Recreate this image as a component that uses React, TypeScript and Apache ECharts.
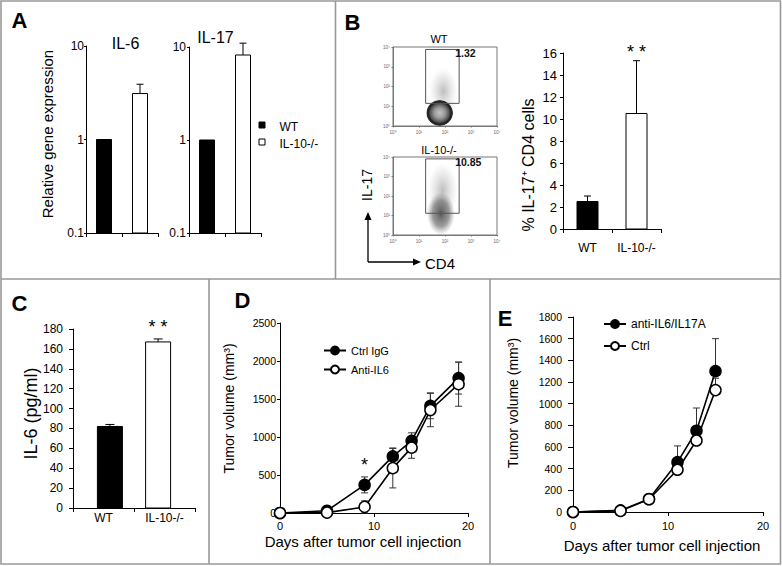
import React, { useEffect, useRef } from "react";
import * as echarts from "echarts";

const FONT = '"Liberation Sans", Arial, Helvetica, sans-serif';

// ---------- Panel A: relative gene expression (log scale) ----------
const groupsA = ["WT", "IL-10-/-"];
const il6Relative = [1, 3.1];
const il6RelativeErr = [0, 0.8];
const il17Relative = [1, 8.2];
const il17RelativeErr = [0, 2.8];
const relativeMin = 0.1;
const relativeMax = 10;

// ---------- Panel B: flow cytometry + % IL-17+ CD4 cells ----------
const groupsB = ["WT", "IL-10-/-"];
const il17Percent = [2.5, 10.5];
const il17PercentErr = [0.5, 4.8];
const il17PercentSig = ["", "* *"];
const flowMin = 1;
const flowMax = 10000;
const flowTickLabels = ["10⁰", "10¹", "10²", "10³", "10⁴"];
const flowTitles = ["WT", "IL-10-/-"];
const flowGatePercent = ["1.32", "10.85"];
// gate bounds: [CD4 low, CD4 high, IL-17 low, IL-17 high]
const flowGateWT = [18, 350, 14, 7500];
const flowGateKO = [18, 350, 13, 8000];
// event clouds: [CD4 low, CD4 high, IL-17 low, IL-17 high, density kind]
const flowCloudWT = [
  [25, 300, 4, 900, 0],
  [19, 205, 1, 21, 2],
];
const flowCloudKO = [
  [22, 300, 8, 5000, 0],
  [20, 240, 1, 160, 1],
];

// ---------- Panel C: IL-6 (pg/ml) ----------
const groupsC = ["WT", "IL-10-/-"];
const il6Conc = [82, 167];
const il6ConcErr = [2, 3];
const il6ConcSig = ["", "* *"];

// ---------- Panel D: tumor volume, Ctrl IgG vs Anti-IL6 ----------
const daysD = [0, 5, 9, 12, 14, 16, 19];
const ctrlIgG = [0, 30, 370, 745, 950, 1410, 1775];
const ctrlIgGErr = [0, 0, 105, 110, 105, 170, 210];
const antiIL6 = [0, 5, 80, 590, 860, 1355, 1695];
const antiIL6Err = [0, 0, 80, 260, 140, 220, 290];
const sigD = ["", "", "*", "", "", "", ""];

// ---------- Panel E: tumor volume, anti-IL6/IL17A vs Ctrl ----------
const daysE = [0, 5, 8, 11, 13, 15];
const antiCombo = [0, 15, 120, 460, 750, 1300];
const antiComboErr = [0, 0, 0, 150, 210, 300];
const ctrlE = [0, 10, 118, 390, 660, 1125];
const ctrlEErr = [0, 0, 0, 0, 0, 110];

const BLACK = "#000";
const plain = (v: number) => String(+(+v).toPrecision(4));

function barRenderer(o: {
  base: number;
  shift: number;
  barWidth: number;
  capWidth: number;
  fills: string[];
  errs: number[];
  sigs?: string[];
  sigGap?: number;
  sigSize?: number;
}) {
  return (params: any, api: any) => {
    const idx = params.dataIndex;
    const i = api.value(0);
    const v = api.value(1);
    const e = o.errs[idx] || 0;
    const band = api.size([1, 0], [i, 1])[0];
    const dir = idx === 0 ? 1 : -1;
    const top = api.coord([i, v]);
    const bottom = api.coord([i, o.base]);
    const cx = top[0] + dir * o.shift * band;
    const children: any[] = [];
    let capY = top[1];
    if (e > 0) {
      const et = api.coord([i, v + e]);
      capY = et[1];
      children.push({
        type: "line",
        shape: { x1: cx, y1: top[1], x2: cx, y2: et[1] },
        style: { stroke: BLACK, lineWidth: 1 },
      });
      children.push({
        type: "line",
        shape: { x1: cx - o.capWidth / 2, y1: et[1], x2: cx + o.capWidth / 2, y2: et[1] },
        style: { stroke: BLACK, lineWidth: 1 },
      });
    }
    children.push({
      type: "rect",
      shape: { x: cx - o.barWidth / 2, y: top[1], width: o.barWidth, height: bottom[1] - top[1] },
      style: { fill: o.fills[idx], stroke: BLACK, lineWidth: 1 },
    });
    if (o.sigs && o.sigs[idx]) {
      children.push({
        type: "text",
        style: {
          text: o.sigs[idx],
          x: cx,
          y: capY - (o.sigGap || 12),
          align: "center",
          verticalAlign: "middle",
          textAlign: "center",
          textVerticalAlign: "middle",
          fontSize: o.sigSize || 18,
          fontFamily: FONT,
          fill: BLACK,
        },
      });
    }
    return { type: "group", children };
  };
}

function errRenderer(errs: number[], mode: "both" | "up", sigs?: string[]) {
  return (params: any, api: any) => {
    const idx = params.dataIndex;
    const x = api.value(0);
    const m = api.value(1);
    const e = errs[idx] || 0;
    const children: any[] = [];
    const cw = 3.5;
    const st = { stroke: "#333", lineWidth: 1 };
    let capY = api.coord([x, m])[1];
    if (e > 0) {
      const top = api.coord([x, m + e]);
      const bot = api.coord([x, mode === "both" ? Math.max(m - e, 0) : m]);
      capY = top[1];
      children.push({ type: "line", shape: { x1: top[0], y1: top[1], x2: bot[0], y2: bot[1] }, style: st });
      children.push({ type: "line", shape: { x1: top[0] - cw, y1: top[1], x2: top[0] + cw, y2: top[1] }, style: st });
      if (mode === "both")
        children.push({ type: "line", shape: { x1: bot[0] - cw, y1: bot[1], x2: bot[0] + cw, y2: bot[1] }, style: st });
    }
    if (sigs && sigs[idx]) {
      const p = api.coord([x, m]);
      children.push({
        type: "text",
        style: {
          text: sigs[idx],
          x: p[0],
          y: capY - 12,
          align: "center",
          verticalAlign: "middle",
          textAlign: "center",
          textVerticalAlign: "middle",
          fontSize: 18,
          fontFamily: FONT,
          fill: BLACK,
        },
      });
    }
    return { type: "group", children };
  };
}

function gateRenderer(label: string) {
  return (params: any, api: any) => {
    const p1 = api.coord([api.value(0), api.value(3)]);
    const p2 = api.coord([api.value(1), api.value(2)]);
    return {
      type: "group",
      children: [
        {
          type: "rect",
          shape: { x: p1[0], y: p1[1], width: p2[0] - p1[0], height: p2[1] - p1[1] },
          style: { fill: "none", stroke: "#555", lineWidth: 1 },
        },
        {
          type: "text",
          style: {
            text: label,
            x: p2[0] - 4,
            y: p1[1] + 3.5,
            align: "left",
            verticalAlign: "middle",
            textAlign: "left",
            textVerticalAlign: "middle",
            fontSize: 10.5,
            fontWeight: "bold",
            fontFamily: FONT,
            fill: "#111",
          },
        },
      ],
    };
  };
}

function cloudRenderer(params: any, api: any) {
  const a = api.coord([api.value(0), api.value(3)]);
  const b = api.coord([api.value(1), api.value(2)]);
  const kind = api.value(4);
  const cx = (a[0] + b[0]) / 2;
  const cy = (a[1] + b[1]) / 2;
  const rx = Math.abs(b[0] - a[0]) / 2;
  const ry = Math.abs(b[1] - a[1]) / 2;
  let stops;
  if (kind === 2)
    stops = [
      { offset: 0, color: "#c4c4c4" },
      { offset: 0.4, color: "#9a9a9a" },
      { offset: 0.7, color: "#555" },
      { offset: 0.85, color: "#1e1e1e" },
      { offset: 0.95, color: "#333" },
      { offset: 1, color: "rgba(60,60,60,0.3)" },
    ];
  else if (kind === 1)
    stops = [
      { offset: 0, color: "rgba(60,60,60,0.85)" },
      { offset: 0.6, color: "rgba(90,90,90,0.6)" },
      { offset: 1, color: "rgba(130,130,130,0)" },
    ];
  else
    stops = [
      { offset: 0, color: "rgba(110,110,110,0.45)" },
      { offset: 1, color: "rgba(160,160,160,0)" },
    ];
  return {
    type: "ellipse",
    shape: { cx, cy, rx, ry },
    style: { fill: new echarts.graphic.RadialGradient(0.5, 0.5, 0.5, stops) },
  };
}

const axisLine = { show: true, lineStyle: { color: BLACK, width: 1 } };
const tick = (len: number) => ({ show: true, length: len, lineStyle: { color: BLACK } });

function catX(gridIndex: number, data: string[], showLabel: boolean, margin: number) {
  return {
    gridIndex,
    type: "category",
    data,
    axisLine,
    axisTick: tick(4),
    splitLine: { show: false },
    axisLabel: { show: showLabel, interval: 0, fontSize: 12, margin, color: BLACK, fontFamily: FONT },
  };
}

function valueAxis(gridIndex: number, max: number, interval: number, fontSize: number, margin: number, tickLen: number) {
  return {
    gridIndex,
    type: "value",
    min: 0,
    max,
    interval,
    axisLine,
    axisTick: tick(tickLen),
    splitLine: { show: false },
    axisLabel: { fontSize, margin, color: BLACK, formatter: plain },
  };
}

function flowAxis(gridIndex: number, isY: boolean) {
  const sup = flowTickLabels;
  return {
    gridIndex,
    type: "log",
    logBase: 10,
    min: flowMin,
    max: flowMax,
    axisLine: { show: true, lineStyle: { color: "#777", width: 1 } },
    axisTick: { show: true, length: 1.5, lineStyle: { color: "#777" } },
    splitLine: { show: false },
    minorTick: { show: false },
    axisLabel: {
      fontSize: 4.5,
      color: "#666",
      margin: isY ? 3 : 4,
      formatter: (v: number) => sup[Math.round(Math.log10(v))] || "",
    },
  };
}

function logAxis(gridIndex: number, margin: number) {
  return {
    gridIndex,
    type: "log",
    logBase: 10,
    min: relativeMin,
    max: relativeMax,
    axisLine,
    axisTick: tick(2),
    splitLine: { show: false },
    minorTick: { show: false },
    axisLabel: { fontSize: 12, margin, color: BLACK, formatter: (v: number) => String(+(+v).toPrecision(2)) },
  };
}

function gtext(text: string, x: number, y: number, size: number, extra: any = {}) {
  const { rotation, weight, align, fill, ...rest } = extra;
  return {
    type: "text",
    x,
    y,
    rotation: rotation || 0,
    silent: true,
    style: {
      text,
      x: 0,
      y: 0,
      fontSize: size,
      fontFamily: FONT,
      fontWeight: weight || "normal",
      fill: fill || BLACK,
      align: align || "center",
      verticalAlign: "middle",
      textAlign: align || "center",
      textVerticalAlign: "middle",
      ...rest,
    },
  };
}

const borderStyle = { stroke: "#999", lineWidth: 1.6 };

export default function App() {
  const ref = useRef<HTMLDivElement>(null);
  useEffect(() => {
    if (!ref.current) return;
    const chart = echarts.init(ref.current, undefined, { renderer: "svg" });
    const R90 = Math.PI / 2;
    const lineSeries = (name: string, xi: number, xs: number[], ys: number[], fill: string, z: number) => ({
      name,
      type: "line",
      xAxisIndex: xi,
      yAxisIndex: xi,
      z,
      data: xs.map((d, i) => [d, ys[i]]),
      symbol: "circle",
      symbolSize: 11,
      lineStyle: { color: BLACK, width: 1.6 },
      itemStyle: { color: fill, borderColor: "#000", borderWidth: 1.5 },
    });
    const errSeries = (xi: number, xs: number[], ys: number[], errs: number[], mode: "both" | "up", sigs?: string[]) => ({
      type: "custom",
      xAxisIndex: xi,
      yAxisIndex: xi,
      encode: { x: 0, y: 1 },
      z: 2,
      data: xs.map((d, i) => [d, ys[i]]),
      renderItem: errRenderer(errs, mode, sigs),
    });
    const option: any = {
      animation: false,
      backgroundColor: "#fff",
      textStyle: { fontFamily: FONT },
      grid: [
        { left: 86, top: 46, width: 72, height: 187 },
        { left: 189, top: 47, width: 72, height: 186 },
        { left: 563, top: 53, width: 98, height: 176 },
        { left: 73, top: 329, width: 122, height: 179 },
        { left: 280, top: 323, width: 188, height: 190 },
        { left: 573, top: 317, width: 190, height: 195 },
        { left: 393, top: 47, width: 104, height: 79, show: true, borderColor: "#777", borderWidth: 1 },
        { left: 393, top: 157, width: 104, height: 78, show: true, borderColor: "#777", borderWidth: 1 },
      ],
      xAxis: [
        catX(0, groupsA, false, 4),
        catX(1, groupsA, false, 4),
        catX(2, groupsB, true, 13),
        catX(3, groupsC, true, 4),
        valueAxis(4, 20, 10, 11, 7, 4),
        valueAxis(5, 20, 10, 11, 8, 4),
        flowAxis(6, false),
        flowAxis(7, false),
      ],
      yAxis: [
        logAxis(0, 2),
        logAxis(1, 3),
        valueAxis(2, 16, 2, 13, 6, 3),
        valueAxis(3, 180, 20, 12, 10, 4),
        valueAxis(4, 2500, 500, 10.5, 4, 3),
        valueAxis(5, 1800, 200, 10.5, 11, 5),
        flowAxis(6, true),
        flowAxis(7, true),
      ],
      legend: [
        {
          data: ["Ctrl IgG", "Anti-IL6"],
          orient: "vertical",
          left: 323,
          top: 345,
          padding: 0,
          itemWidth: 22,
          itemHeight: 10,
          itemGap: 8,
          selectedMode: false,
          textStyle: { fontSize: 11, color: BLACK, fontFamily: FONT },
        },
        {
          data: ["anti-IL6/IL17A", "Ctrl"],
          orient: "vertical",
          left: 603,
          top: 318,
          padding: 0,
          itemWidth: 22,
          itemHeight: 10,
          itemGap: 10,
          selectedMode: false,
          textStyle: { fontSize: 12, color: BLACK, fontFamily: FONT },
        },
      ],
      series: [
        {
          type: "custom",
          xAxisIndex: 0,
          yAxisIndex: 0,
          encode: { x: 0, y: 1 },
          data: il6Relative.map((v, i) => [i, v]),
          renderItem: barRenderer({ base: relativeMin, shift: 0, barWidth: 15, capWidth: 7, fills: ["#000", "#fff"], errs: il6RelativeErr }),
        },
        {
          type: "custom",
          xAxisIndex: 1,
          yAxisIndex: 1,
          encode: { x: 0, y: 1 },
          data: il17Relative.map((v, i) => [i, v]),
          renderItem: barRenderer({ base: relativeMin, shift: 0, barWidth: 15, capWidth: 7, fills: ["#000", "#fff"], errs: il17RelativeErr }),
        },
        {
          type: "custom",
          xAxisIndex: 2,
          yAxisIndex: 2,
          encode: { x: 0, y: 1 },
          data: il17Percent.map((v, i) => [i, v]),
          renderItem: barRenderer({
            base: 0, shift: 0, barWidth: 21, capWidth: 7, fills: ["#000", "#fff"],
            errs: il17PercentErr, sigs: il17PercentSig, sigGap: 9, sigSize: 18,
          }),
        },
        {
          type: "custom",
          xAxisIndex: 3,
          yAxisIndex: 3,
          encode: { x: 0, y: 1 },
          data: il6Conc.map((v, i) => [i, v]),
          renderItem: barRenderer({
            base: 0, shift: 0.105, barWidth: 25, capWidth: 9, fills: ["#000", "#fff"],
            errs: il6ConcErr, sigs: il6ConcSig, sigGap: 12, sigSize: 18,
          }),
        },
        errSeries(4, daysD, ctrlIgG, ctrlIgGErr, "both", sigD),
        errSeries(4, daysD, antiIL6, antiIL6Err, "both"),
        lineSeries("Ctrl IgG", 4, daysD, ctrlIgG, "#000", 3),
        lineSeries("Anti-IL6", 4, daysD, antiIL6, "#fff", 4),
        errSeries(5, daysE, antiCombo, antiComboErr, "up"),
        errSeries(5, daysE, ctrlE, ctrlEErr, "up"),
        lineSeries("anti-IL6/IL17A", 5, daysE, antiCombo, "#000", 3),
        lineSeries("Ctrl", 5, daysE, ctrlE, "#fff", 4),
        {
          type: "custom",
          xAxisIndex: 6,
          yAxisIndex: 6,
          encode: { x: [0, 1], y: [2, 3] },
          data: flowCloudWT,
          renderItem: cloudRenderer,
        },
        {
          type: "custom",
          xAxisIndex: 6,
          yAxisIndex: 6,
          encode: { x: [0, 1], y: [2, 3] },
          data: [flowGateWT],
          renderItem: gateRenderer(flowGatePercent[0]),
        },
        {
          type: "custom",
          xAxisIndex: 7,
          yAxisIndex: 7,
          encode: { x: [0, 1], y: [2, 3] },
          data: flowCloudKO,
          renderItem: cloudRenderer,
        },
        {
          type: "custom",
          xAxisIndex: 7,
          yAxisIndex: 7,
          encode: { x: [0, 1], y: [2, 3] },
          data: [flowGateKO],
          renderItem: gateRenderer(flowGatePercent[1]),
        },
      ],
      graphic: [
        // panel borders
        { type: "rect", silent: true, shape: { x: 1, y: 1, width: 779.5, height: 563 }, style: { fill: "none", ...borderStyle } },
        { type: "line", silent: true, shape: { x1: 335.5, y1: 1, x2: 335.5, y2: 279 }, style: borderStyle },
        { type: "line", silent: true, shape: { x1: 1, y1: 279, x2: 780.5, y2: 279 }, style: borderStyle },
        { type: "line", silent: true, shape: { x1: 209, y1: 279, x2: 209, y2: 564 }, style: borderStyle },
        { type: "line", silent: true, shape: { x1: 490, y1: 279, x2: 490, y2: 564 }, style: borderStyle },
        // panel letters
        gtext("A", 19.5, 20.5, 22, { weight: "bold" }),
        gtext("B", 352.5, 22.5, 22, { weight: "bold" }),
        gtext("C", 19.5, 303.5, 22, { weight: "bold" }),
        gtext("D", 242.5, 300, 22, { weight: "bold" }),
        gtext("E", 505, 318, 22, { weight: "bold" }),
        // panel A
        gtext("IL-6", 125.5, 43.5, 16),
        gtext("IL-17", 215.5, 37.5, 16),
        gtext("Relative gene expression", 47, 134, 15, { rotation: R90 }),
        { type: "rect", silent: true, shape: { x: 259, y: 122, width: 6, height: 6 }, style: { fill: "#000", stroke: "#000", lineWidth: 1 } },
        { type: "rect", silent: true, shape: { x: 259, y: 139, width: 6, height: 6 }, style: { fill: "#fff", stroke: "#000", lineWidth: 1 } },
        gtext(groupsA[0], 279.5, 127, 12, { align: "left" }),
        gtext(groupsA[1], 279.5, 143.5, 12, { align: "left" }),
        // panel B flow plots
        gtext(flowTitles[0], 439, 39, 11),
        gtext(flowTitles[1], 439, 149.5, 11),
        gtext("IL-17", 367, 185, 14, { rotation: R90 }),
        gtext("CD4", 425, 263, 15, { align: "left" }),
        { type: "polyline", silent: true, shape: { points: [[368, 262], [368, 219]] }, style: { stroke: "#000", lineWidth: 1.3 } },
        { type: "polygon", silent: true, shape: { points: [[368, 212], [364.5, 220], [371.5, 220]] }, style: { fill: "#000" } },
        { type: "polyline", silent: true, shape: { points: [[368, 262], [414, 262]] }, style: { stroke: "#000", lineWidth: 1.3 } },
        { type: "polygon", silent: true, shape: { points: [[421, 262], [413, 258.5], [413, 265.5]] }, style: { fill: "#000" } },
        gtext("% IL-17⁺ CD4 cells", 528, 165, 16, { rotation: R90 }),
        // panel C
        gtext("IL-6 (pg/ml)", 30.5, 413.5, 18, { rotation: R90 }),
        // panel D
        gtext("Tumor volume (mm³)", 229, 408.5, 14, { rotation: R90 }),
        gtext("Days after tumor cell injection", 363, 541, 15),
        // panel E
        gtext("Tumor volume (mm³)", 513, 403, 14, { rotation: R90 }),
        gtext("Days after tumor cell injection", 662, 545, 15),
      ],
    };
    chart.setOption(option);
    return () => chart.dispose();
  }, []);
  return (
    <div
      ref={ref}
      style={{ position: "absolute", left: 0, top: 0, width: 782, height: 566, background: "#fff" }}
    />
  );
}
